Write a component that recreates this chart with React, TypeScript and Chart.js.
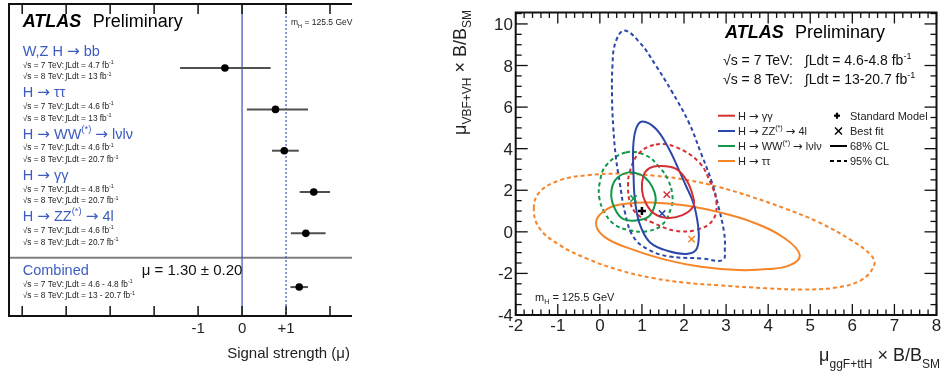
import { useEffect, useRef } from "react";
import { Chart, registerables } from "chart.js";

Chart.register(...registerables);

const FONT = "'Liberation Sans', Arial, Helvetica, sans-serif";
const ARROW_FONT = "'DejaVu Sans', sans-serif";

type Seg = { t: string; k?: "sup" | "sub"; style?: string };

// ================= Left panel: signal strength per channel =================
const channelTitles: Seg[][] = [
  [{ t: "W,Z H → bb" }],
  [{ t: "H → ττ" }],
  [{ t: "H → WW" }, { t: "(*)", k: "sup" }, { t: " → lνlν" }],
  [{ t: "H → γγ" }],
  [{ t: "H → ZZ" }, { t: "(*)", k: "sup" }, { t: " → 4l" }],
];
const muCentral = [-0.39, 0.76, 0.96, 1.63, 1.45];
const muLow = [-1.41, 0.11, 0.68, 1.31, 1.11];
const muHigh = [0.65, 1.5, 1.29, 2.0, 1.9];
const lumi7TeV = ["4.7", "4.6", "4.6", "4.8", "4.6"];
const lumi8TeV = ["13", "13", "20.7", "20.7", "20.7"];
const combinedTitle = "Combined";
const combinedMu = 1.3;
const combinedLow = 1.1;
const combinedHigh = 1.5;
const combinedLumi7TeV = "4.6 - 4.8";
const combinedLumi8TeV = "13 - 20.7";
const combinedText = "μ = 1.30 ± 0.20";
const muTickValues = [-5, -4, -3, -2, -1, 0, 1, 2];
const muTickLabels: Record<string, string> = { "-1": "-1", "0": "0", "1": "+1" };
const muAxisTitle = "Signal strength (μ)";

// ================= Right panel: 2D likelihood contours =================
const channelNames: Seg[][] = [
  [{ t: "H → γγ" }],
  [{ t: "H → ZZ" }, { t: "(*)", k: "sup" }, { t: " → 4l" }],
  [{ t: "H → WW" }, { t: "(*)", k: "sup" }, { t: " → lνlν" }],
  [{ t: "H → ττ" }],
];
const channelColors = ["#d42f34", "#2b47a8", "#12984a", "#f68428"];

const gamgam68 = [[1.41, 3.17], [1.8, 3.04], [2.07, 2.45], [2.22, 1.65], [2.22, 1.22], [1.96, 0.8], [1.62, 0.67], [1.3, 0.86], [1.1, 1.35], [1.0, 2.02], [1.04, 2.72], [1.18, 3.06]];
const gamgam95 = [[1.33, 4.2], [1.8, 4.08], [2.35, 3.36], [2.62, 2.4], [2.77, 1.4], [2.68, 0.55], [2.3, 0.1], [1.8, 0.05], [1.28, 0.42], [0.9, 0.82], [0.72, 1.4], [0.67, 2.2], [0.72, 2.95], [0.93, 3.78]];
const zz68 = [[1.01, 5.31], [1.33, 4.96], [1.64, 4.0], [1.85, 3.1], [2.04, 2.24], [2.22, 1.4], [2.32, 0.5], [2.35, -0.3], [2.28, -0.88], [2.05, -1.06], [1.62, -0.92], [1.2, -0.52], [0.98, 0.2], [0.88, 0.9], [0.82, 1.8], [0.8, 2.8], [0.79, 4.0], [0.86, 4.96]];
const zz95 = [[0.58, 9.68], [0.95, 9.1], [1.33, 8.0], [1.72, 6.72], [2.11, 5.28], [2.4, 3.8], [2.66, 2.4], [2.82, 1.2], [2.95, 0.0], [2.97, -0.8], [2.92, -1.36], [2.43, -1.28], [1.64, -1.18], [1.15, -0.85], [0.8, -0.25], [0.6, 0.9], [0.47, 2.4], [0.38, 3.6], [0.32, 5.0], [0.29, 6.4], [0.3, 8.0], [0.37, 9.1]];
const ww68 = [[0.68, 2.86], [0.98, 2.74], [1.17, 2.4], [1.3, 1.9], [1.32, 1.4], [1.17, 0.75], [0.85, 0.55], [0.55, 0.62], [0.36, 1.1], [0.27, 1.8], [0.37, 2.5]];
const ww95 = [[0.62, 3.82], [1.09, 3.68], [1.4, 3.15], [1.62, 2.5], [1.72, 1.8], [1.7, 1.2], [1.48, 0.34], [1.09, 0.02], [0.7, 0.08], [0.35, 0.35], [0.12, 0.9], [-0.01, 1.6], [0.0, 2.4], [0.15, 3.2]];
const tautau68 = [[-0.09, 0.48], [0.19, 1.12], [0.66, 1.36], [1.21, 1.41], [2.0, 1.28], [2.8, 0.96], [3.61, 0.48], [4.4, -0.32], [4.75, -1.12], [4.52, -1.6], [4.0, -1.79], [3.3, -1.84], [2.4, -1.68], [1.6, -1.36], [0.82, -0.88], [0.11, -0.24]];
const tautau95 = [[-1.57, 1.12], [-1.43, 1.92], [-0.95, 2.48], [-0.3, 2.72], [0.5, 2.8], [1.3, 2.7], [2.11, 2.48], [2.82, 2.16], [3.61, 1.68], [4.4, 1.12], [5.18, 0.48], [5.97, -0.4], [6.44, -1.12], [6.52, -1.6], [6.21, -2.32], [5.58, -2.69], [4.79, -2.77], [4.0, -2.72], [2.82, -2.57], [2.04, -2.45], [1.25, -2.22], [0.46, -1.84], [-0.32, -1.28], [-0.95, -0.64], [-1.43, 0.16]];
const contours68 = [gamgam68, zz68, ww68, tautau68];
const contours95 = [gamgam95, zz95, ww95, tautau95];

const bestFitGgF = [1.59, 1.48, 0.8, 2.18];
const bestFitVBF = [1.79, 0.88, 1.6, -0.35];
const smGgF = 1;
const smVBF = 1;

const xTickValues = [-2, -1, 0, 1, 2, 3, 4, 5, 6, 7, 8];
const yTickValues = [-4, -2, 0, 2, 4, 6, 8, 10];
const xTitle: Seg[] = [{ t: "μ" }, { t: "ggF+ttH", k: "sub" }, { t: " × B/B" }, { t: "SM", k: "sub" }];
const yTitle: Seg[] = [{ t: "μ" }, { t: "VBF+VH", k: "sub" }, { t: " × B/B" }, { t: "SM", k: "sub" }];
const energyLines = [
  ["√s = 7 TeV:", "∫Ldt = 4.6-4.8 fb"],
  ["√s = 8 TeV:", "∫Ldt = 13-20.7 fb"],
];
const massLabel: Seg[] = [{ t: "m" }, { t: "H", k: "sub" }, { t: " = 125.5 GeV" }];

// ================= helpers =================
function drawRich(
  ctx: CanvasRenderingContext2D,
  segs: Seg[],
  x: number,
  y: number,
  size: number,
  opts: { align?: string; color?: string; style?: string; subScale?: number; subDy?: number; supDy?: number } = {}
) {
  const subScale = opts.subScale ?? 0.65;
  const items: { s: Seg; t: string; font: string; w: number }[] = [];
  segs.forEach((s) => {
    const sz = s.k ? size * subScale : size;
    const st = s.style ?? opts.style ?? "";
    const pieces = s.t.split(/(→)/).filter((p) => p.length > 0);
    pieces.forEach((p) => {
      const font = p === "→" ? `${sz * 1.05}px ${ARROW_FONT}` : `${st} ${sz}px ${FONT}`;
      ctx.font = font;
      items.push({ s, t: p, font, w: ctx.measureText(p).width });
    });
  });
  const total = items.reduce((a, b) => a + b.w, 0);
  let cx = opts.align === "right" ? x - total : opts.align === "center" ? x - total / 2 : x;
  ctx.fillStyle = opts.color ?? "#000";
  ctx.textBaseline = "alphabetic";
  ctx.textAlign = "left";
  for (const it of items) {
    ctx.font = it.font;
    let dy = 0;
    if (it.s.k === "sup") dy = -(opts.supDy ?? size * 0.42);
    if (it.s.k === "sub") dy = opts.subDy ?? size * 0.3;
    ctx.fillText(it.t, cx, y + dy);
    cx += it.w;
  }
  return total;
}

function seg(ctx: CanvasRenderingContext2D, x1: number, y1: number, x2: number, y2: number) {
  ctx.beginPath();
  ctx.moveTo(x1, y1);
  ctx.lineTo(x2, y2);
  ctx.stroke();
}

const rowPositions = channelTitles.map((_, i) => 6 - i);
const combinedPos = 0.7;
const separatorPos = 1.41;

// ================= left chart =================
function leftConfig(): any {
  const points = muCentral.map((m, i) => ({ x: m, y: rowPositions[i] }));
  points.push({ x: combinedMu, y: combinedPos });
  const lows = [...muLow, combinedLow];
  const highs = [...muHigh, combinedHigh];
  const bars = lows.map((lo, i) => ({
    type: "scatter",
    data: [
      { x: lo, y: points[i].y },
      { x: highs[i], y: points[i].y },
    ],
    showLine: true,
    borderColor: "#505050",
    borderWidth: 2,
    pointRadius: 0,
    order: 1,
  }));
  const plugin = {
    id: "leftDecor",
    beforeDatasetsDraw(chart: any) {
      const { ctx, chartArea: a, scales } = chart;
      const x = scales.x;
      const y = scales.y;
      ctx.save();
      ctx.strokeStyle = "#808080";
      ctx.lineWidth = 2;
      const ys = y.getPixelForValue(separatorPos);
      seg(ctx, a.left, ys, a.right, ys);
      ctx.strokeStyle = "#3553b5";
      ctx.lineWidth = 1.2;
      const x0 = x.getPixelForValue(0);
      seg(ctx, x0, a.top, x0, a.bottom);
      ctx.setLineDash([2, 2]);
      const x1 = x.getPixelForValue(1);
      seg(ctx, x1, a.top, x1, a.bottom);
      ctx.restore();
    },
    afterDraw(chart: any) {
      const { ctx, chartArea: a, scales } = chart;
      const x = scales.x;
      const y = scales.y;
      ctx.save();
      ctx.strokeStyle = "#111";
      ctx.lineWidth = 2;
      ctx.beginPath();
      ctx.moveTo(a.right, a.top);
      ctx.lineTo(a.left, a.top);
      ctx.lineTo(a.left, a.bottom);
      ctx.lineTo(a.right, a.bottom);
      ctx.stroke();
      ctx.lineWidth = 1.5;
      for (const v of muTickValues) {
        const px = x.getPixelForValue(v);
        seg(ctx, px, a.top, px, a.top + 10);
        seg(ctx, px, a.bottom, px, a.bottom - 10);
        const lab = muTickLabels[String(v)];
        if (lab) drawRich(ctx, [{ t: lab }], px, a.bottom + 17, 15, { align: "center", color: "#222" });
      }
      drawRich(ctx, [{ t: muAxisTitle }], a.right - 2, 358, 15, { align: "right", color: "#222" });
      drawRich(ctx, [{ t: "ATLAS", style: "italic bold" }], 22.7, 26.7, 18);
      drawRich(ctx, [{ t: "Preliminary" }], 92.7, 26.7, 18);
      drawRich(ctx, massLabel, 291, 25, 8.5, { color: "#222" });
      const blue = "#3d5cc0";
      const labelRow = (title: Seg[], pos: number, l7: string, l8: string) => {
        const py = y.getPixelForValue(pos);
        drawRich(ctx, title, 22.7, py - 12, 14.5, { color: blue, supDy: 7 });
        drawRich(ctx, [{ t: "√s = 7 TeV:" }], 22.7, py - 0.5, 8.3, { color: "#222" });
        drawRich(ctx, [{ t: `∫Ldt = ${l7} fb` }, { t: "-1", k: "sup" }], 65, py - 0.5, 8.3, { color: "#222" });
        drawRich(ctx, [{ t: "√s = 8 TeV:" }], 22.7, py + 11.3, 8.3, { color: "#222" });
        drawRich(ctx, [{ t: `∫Ldt = ${l8} fb` }, { t: "-1", k: "sup" }], 65, py + 11.3, 8.3, { color: "#222" });
      };
      channelTitles.forEach((t, i) => labelRow(t, rowPositions[i], lumi7TeV[i], lumi8TeV[i]));
      labelRow([{ t: combinedTitle }], combinedPos, combinedLumi7TeV, combinedLumi8TeV);
      drawRich(ctx, [{ t: combinedText }], 141.7, y.getPixelForValue(combinedPos) - 12, 15, { color: "#111" });
      ctx.restore();
    },
  };
  return {
    type: "scatter",
    data: {
      datasets: [
        {
          type: "scatter",
          data: points,
          pointRadius: 3.8,
          pointBackgroundColor: "#000",
          pointBorderColor: "#000",
          pointBorderWidth: 0,
          order: 0,
        },
        ...bars,
      ],
    },
    options: {
      responsive: false,
      animation: false,
      devicePixelRatio: 1,
      events: [],
      layout: { padding: { left: 9, top: 1, right: 88, bottom: 60 } },
      scales: {
        x: { type: "linear", min: -5.3, max: 2.5, display: false },
        y: { type: "linear", min: 0, max: 7.55, display: false },
      },
      plugins: { legend: { display: false }, tooltip: { enabled: false } },
    },
    plugins: [plugin],
  };
}

// ================= right chart =================
function closedCurve(pts: number[][], color: string, dashed: boolean) {
  const n = pts.length;
  const data = [pts[n - 1], ...pts, pts[0], pts[1]].map(([x, y]) => ({ x, y }));
  const lastHidden = data.length - 2;
  return {
    type: "scatter",
    data,
    showLine: true,
    borderColor: color,
    borderWidth: 2,
    borderDash: dashed ? [4, 3] : [],
    pointRadius: 0,
    tension: 0.4,
    order: 1,
    segment: {
      borderColor: (c: any) => (c.p0DataIndex === 0 || c.p0DataIndex === lastHidden ? "rgba(0,0,0,0)" : color),
    },
  };
}

function rightConfig(): any {
  const datasets: any[] = [];
  datasets.push({
    type: "scatter",
    data: [{ x: smGgF, y: smVBF }],
    pointStyle: "cross",
    pointRadius: 4,
    pointBorderWidth: 2.5,
    pointBorderColor: "#000",
    order: 0,
  });
  datasets.push({
    type: "scatter",
    data: bestFitGgF.map((v, i) => ({ x: v, y: bestFitVBF[i] })),
    pointStyle: "crossRot",
    pointRadius: 4.5,
    pointBorderWidth: 1.5,
    pointBorderColor: channelColors,
    order: 0,
  });
  contours68.forEach((c, i) => datasets.push(closedCurve(c, channelColors[i], false)));
  contours95.forEach((c, i) => datasets.push(closedCurve(c, channelColors[i], true)));

  const plugin = {
    id: "rightDecor",
    afterDraw(chart: any) {
      const { ctx, chartArea: a, scales } = chart;
      const x = scales.x;
      const y = scales.y;
      ctx.save();
      ctx.strokeStyle = "#111";
      ctx.lineWidth = 2;
      ctx.strokeRect(a.left, a.top, a.right - a.left, a.bottom - a.top);
      ctx.lineWidth = 1.3;
      for (let v = x.min; v <= x.max + 1e-6; v += 0.2) {
        const major = Math.abs(v - Math.round(v)) < 1e-6;
        const len = major ? 11 : 5.5;
        const px = x.getPixelForValue(v);
        seg(ctx, px, a.bottom, px, a.bottom - len);
        seg(ctx, px, a.top, px, a.top + len);
      }
      for (let v = y.min; v <= y.max + 1e-6; v += 0.5) {
        const major = Math.abs(v / 2 - Math.round(v / 2)) < 1e-6;
        const len = major ? 12 : 6;
        const py = y.getPixelForValue(v);
        seg(ctx, a.left, py, a.left + len, py);
        seg(ctx, a.right, py, a.right - len, py);
      }
      for (const v of xTickValues) {
        drawRich(ctx, [{ t: String(v) }], x.getPixelForValue(v), 331, 17, { align: "center", color: "#222" });
      }
      for (const v of yTickValues) {
        drawRich(ctx, [{ t: String(v) }], a.left - 2.7, y.getPixelForValue(v) + 6, 17, { align: "right", color: "#222" });
      }
      drawRich(ctx, xTitle, 500, 361, 18, { align: "right", color: "#222", subScale: 12 / 18, subDy: 7 });
      ctx.save();
      ctx.translate(26, 10);
      ctx.rotate(-Math.PI / 2);
      drawRich(ctx, yTitle, 0, 0, 18, { align: "right", color: "#222", subScale: 12 / 18, subDy: 5 });
      ctx.restore();
      drawRich(ctx, [{ t: "ATLAS", style: "italic bold" }], 285, 37.7, 18);
      drawRich(ctx, [{ t: "Preliminary" }], 355, 37.7, 18);
      energyLines.forEach((ln, i) => {
        const by = 65 + i * 19.3;
        drawRich(ctx, [{ t: ln[0] }], 283, by, 14, { color: "#111" });
        drawRich(ctx, [{ t: ln[1] }, { t: "-1", k: "sup" }], 365, by, 14, { color: "#111" });
      });
      const rows = [115.7, 131, 146, 161];
      channelNames.forEach((nm, i) => {
        ctx.strokeStyle = channelColors[i];
        ctx.lineWidth = 2;
        ctx.setLineDash([]);
        seg(ctx, 278, rows[i], 295, rows[i]);
        drawRich(ctx, nm, 298, rows[i] + 4, 11, { color: "#222", supDy: 5 });
      });
      ctx.strokeStyle = "#000";
      ctx.lineWidth = 2.2;
      seg(ctx, 394, rows[0], 400, rows[0]);
      seg(ctx, 397, rows[0] - 3, 397, rows[0] + 3);
      ctx.lineWidth = 1.4;
      seg(ctx, 395, rows[1] - 3.5, 402, rows[1] + 3.5);
      seg(ctx, 395, rows[1] + 3.5, 402, rows[1] - 3.5);
      ctx.lineWidth = 2;
      seg(ctx, 390, rows[2], 407, rows[2]);
      ctx.setLineDash([4, 3]);
      seg(ctx, 390, rows[3], 407, rows[3]);
      ctx.setLineDash([]);
      const rightLabels = ["Standard Model", "Best fit", "68% CL", "95% CL"];
      rightLabels.forEach((t, i) => drawRich(ctx, [{ t }], 410, rows[i] + 4, 11, { color: "#222" }));
      drawRich(ctx, massLabel, 95, 301, 11, { color: "#222" });
      ctx.restore();
    },
  };

  return {
    type: "scatter",
    data: { datasets },
    options: {
      responsive: false,
      animation: false,
      devicePixelRatio: 1,
      events: [],
      layout: { padding: { left: 75.7, top: 12.5, right: 3.3, bottom: 61 } },
      scales: {
        x: { type: "linear", min: -2, max: 8, display: false },
        y: { type: "linear", min: -4, max: 10.55, display: false },
      },
      plugins: { legend: { display: false }, tooltip: { enabled: false } },
    },
    plugins: [plugin],
  };
}

export default function App() {
  const leftRef = useRef<HTMLCanvasElement>(null);
  const rightRef = useRef<HTMLCanvasElement>(null);
  useEffect(() => {
    const left = new Chart(leftRef.current as HTMLCanvasElement, leftConfig());
    const right = new Chart(rightRef.current as HTMLCanvasElement, rightConfig());
    return () => {
      left.destroy();
      right.destroy();
    };
  }, []);
  return (
    <div style={{ position: "absolute", left: 0, top: 0, width: 943, height: 376, background: "#fff" }}>
      <canvas ref={leftRef} width={440} height={376} style={{ position: "absolute", left: 0, top: 0, width: 440, height: 376 }} />
      <canvas ref={rightRef} width={503} height={376} style={{ position: "absolute", left: 440, top: 0, width: 503, height: 376 }} />
    </div>
  );
}
